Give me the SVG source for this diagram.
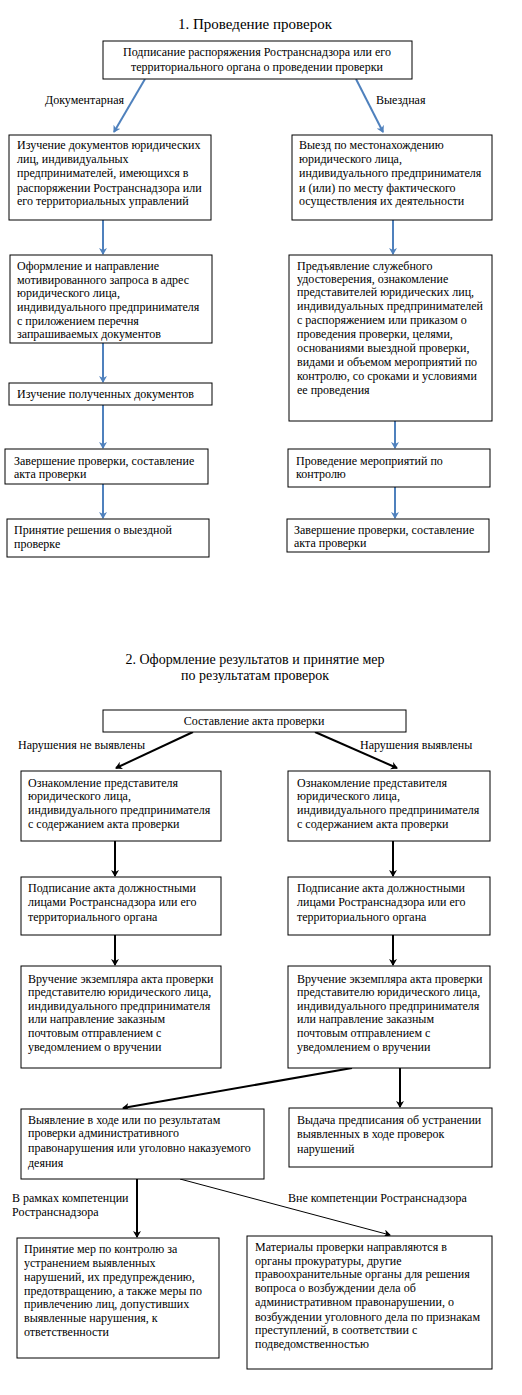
<svg xmlns="http://www.w3.org/2000/svg" width="522" height="1395" viewBox="0 0 522 1395" font-family="Liberation Serif, Times New Roman, serif">
<style>
.b{fill:#fff;stroke:#000;stroke-width:1}
text{font-family:'Liberation Serif','Times New Roman',serif;font-size:12px;fill:#000}
.t{font-size:15px}
.t2{font-size:14px}
.blue{stroke:#4F81BD;stroke-width:2;fill:none}
.blk{stroke:#000;stroke-width:2;fill:none}
.thin{stroke:#000;stroke-width:1;fill:none}
</style>
<defs>
<marker id="ab" markerWidth="8" markerHeight="8" refX="6" refY="4" orient="auto" markerUnits="userSpaceOnUse"><path d="M0,0 L7,4 L0,8 L2,4 Z" fill="#4F81BD"/></marker>
<marker id="ak" markerWidth="8" markerHeight="8" refX="6" refY="4" orient="auto" markerUnits="userSpaceOnUse"><path d="M0,0 L7,4 L0,8 L2,4 Z" fill="#000"/></marker>
</defs>
<rect width="522" height="1395" fill="#fff"/>
<text class="t" x="255" y="29" text-anchor="middle">1. Проведение проверок</text>
<text class="t2" x="255" y="664" text-anchor="middle">2. Оформление результатов и принятие мер</text>
<text class="t2" x="255" y="680" text-anchor="middle">по результатам проверок</text>

<g id="connectors">
<line class="blue" x1="145" y1="79" x2="114" y2="132" marker-end="url(#ab)"/>
<line class="blue" x1="356" y1="79" x2="383" y2="132" marker-end="url(#ab)"/>
<line class="blue" x1="103" y1="220" x2="103" y2="254" marker-end="url(#ab)"/>
<line class="blue" x1="103" y1="343" x2="103" y2="382" marker-end="url(#ab)"/>
<line class="blue" x1="103" y1="405" x2="103" y2="448" marker-end="url(#ab)"/>
<line class="blue" x1="103" y1="484" x2="103" y2="518" marker-end="url(#ab)"/>
<line class="blue" x1="393" y1="220" x2="393" y2="254" marker-end="url(#ab)"/>
<line class="blue" x1="395" y1="421" x2="395" y2="448" marker-end="url(#ab)"/>
<line class="blue" x1="395" y1="487" x2="395" y2="518" marker-end="url(#ab)"/>
<line class="blk" x1="193" y1="732" x2="116" y2="768" marker-end="url(#ak)"/>
<line class="blk" x1="315" y1="732" x2="397" y2="768" marker-end="url(#ak)"/>
<line class="blk" x1="115" y1="841" x2="115" y2="876" marker-end="url(#ak)"/>
<line class="blk" x1="115" y1="935" x2="115" y2="965" marker-end="url(#ak)"/>
<line class="blk" x1="393" y1="841" x2="393" y2="876" marker-end="url(#ak)"/>
<line class="blk" x1="393" y1="935" x2="393" y2="965" marker-end="url(#ak)"/>
<line class="blk" x1="352" y1="1068" x2="123" y2="1108" marker-end="url(#ak)"/>
<line class="blk" x1="400" y1="1068" x2="400" y2="1107" marker-end="url(#ak)"/>
<line class="blk" x1="137" y1="1179" x2="137" y2="1237" marker-end="url(#ak)"/>
<line class="thin" x1="180" y1="1179" x2="390" y2="1235" marker-end="url(#ak)"/>
<text x="45" y="104">Документарная</text>
<text x="376" y="104">Выездная</text>
<text x="18" y="749">Нарушения не выявлены</text>
<text x="360" y="749">Нарушения выявлены</text>
<text x="12" y="1202">В рамках компетенции</text>
<text x="12" y="1216">Ространснадзора</text>
<text x="288" y="1202">Вне компетенции Ространснадзора</text>
</g>

<g id="n1"><rect class="b" x="103" y="41" width="309" height="38"/>
<text x="257" y="56" text-anchor="middle">Подписание распоряжения Ространснадзора или его</text>
<text x="257" y="71" text-anchor="middle">территориального органа о проведении проверки</text></g>

<g id="n2"><rect class="b" x="9" y="135" width="202" height="85"/>
<text x="17" y="149">Изучение документов юридических</text>
<text x="17" y="163">лиц, индивидуальных</text>
<text x="17" y="177">предпринимателей, имеющихся в</text>
<text x="17" y="192">распоряжении Ространснадзора или</text>
<text x="17" y="205">его территориальных управлений</text></g>

<g id="n3"><rect class="b" x="10" y="255" width="202" height="88"/>
<text x="17" y="270">Оформление и направление</text>
<text x="17" y="284">мотивированного запроса в адрес</text>
<text x="17" y="297">юридического лица,</text>
<text x="17" y="311">индивидуального предпринимателя</text>
<text x="17" y="325">с приложением перечня</text>
<text x="17" y="338">запрашиваемых документов</text></g>

<g id="n4"><rect class="b" x="9" y="383" width="203" height="22"/>
<text x="17" y="398">Изучение полученных документов</text></g>

<g id="n5"><rect class="b" x="5" y="449" width="203" height="35"/>
<text x="14" y="465">Завершение проверки, составление</text>
<text x="14" y="478">акта проверки</text></g>

<g id="n6"><rect class="b" x="7" y="519" width="202" height="38"/>
<text x="14" y="534">Принятие решения о выездной</text>
<text x="14" y="548">проверке</text></g>

<g id="n7"><rect class="b" x="292" y="135" width="200" height="85"/>
<text x="299" y="149">Выезд по местонахождению</text>
<text x="299" y="163">юридического лица,</text>
<text x="299" y="177">индивидуального предпринимателя</text>
<text x="299" y="192">и (или) по месту фактического</text>
<text x="299" y="205">осуществления их деятельности</text></g>

<g id="n8"><rect class="b" x="289" y="255" width="203" height="166"/>
<text x="297" y="270">Предъявление служебного</text>
<text x="297" y="283">удостоверения, ознакомление</text>
<text x="297" y="296">представителей юридических лиц,</text>
<text x="297" y="310">индивидуальных предпринимателей</text>
<text x="297" y="324">с распоряжением или приказом о</text>
<text x="297" y="338">проведения проверки, целями,</text>
<text x="297" y="352">основаниями выездной проверки,</text>
<text x="297" y="366">видами и объемом мероприятий по</text>
<text x="297" y="380">контролю, со сроками и условиями</text>
<text x="297" y="394">ее проведения</text></g>

<g id="n9"><rect class="b" x="288" y="449" width="202" height="38"/>
<text x="296" y="465">Проведение мероприятий по</text>
<text x="296" y="478">контролю</text></g>

<g id="n10"><rect class="b" x="287" y="519" width="202" height="33"/>
<text x="294" y="534">Завершение проверки, составление</text>
<text x="294" y="547">акта проверки</text></g>

<g id="n11"><rect class="b" x="103" y="710" width="303" height="22"/>
<text x="254" y="725" text-anchor="middle">Составление акта проверки</text></g>

<g id="n12"><rect class="b" x="21" y="771" width="200" height="70"/>
<text x="28" y="787">Ознакомление представителя</text>
<text x="28" y="800">юридического лица,</text>
<text x="28" y="814">индивидуального предпринимателя</text>
<text x="28" y="828">с содержанием акта проверки</text></g>

<g id="n13"><rect class="b" x="21" y="877" width="200" height="58"/>
<text x="28" y="892">Подписание акта должностными</text>
<text x="28" y="906">лицами Ространснадзора или его</text>
<text x="28" y="921">территориального органа</text></g>

<g id="n14"><rect class="b" x="21" y="966" width="200" height="102"/>
<text x="28" y="983">Вручение экземпляра акта проверки</text>
<text x="28" y="996">представителю юридического лица,</text>
<text x="28" y="1010">индивидуального предпринимателя</text>
<text x="28" y="1023">или направление заказным</text>
<text x="28" y="1037">почтовым отправлением с</text>
<text x="28" y="1051">уведомлением о вручении</text></g>

<g id="n15"><rect class="b" x="288" y="771" width="202" height="70"/>
<text x="297" y="787">Ознакомление представителя</text>
<text x="297" y="800">юридического лица,</text>
<text x="297" y="814">индивидуального предпринимателя</text>
<text x="297" y="828">с содержанием акта проверки</text></g>

<g id="n16"><rect class="b" x="288" y="877" width="202" height="58"/>
<text x="297" y="892">Подписание акта должностными</text>
<text x="297" y="906">лицами Ространснадзора или его</text>
<text x="297" y="921">территориального органа</text></g>

<g id="n17"><rect class="b" x="288" y="966" width="202" height="102"/>
<text x="297" y="983">Вручение экземпляра акта проверки</text>
<text x="297" y="996">представителю юридического лица,</text>
<text x="297" y="1010">индивидуального предпринимателя</text>
<text x="297" y="1023">или направление заказным</text>
<text x="297" y="1037">почтовым отправлением с</text>
<text x="297" y="1051">уведомлением о вручении</text></g>

<g id="n18"><rect class="b" x="21" y="1109" width="243" height="70"/>
<text x="28" y="1124">Выявление в ходе или по результатам</text>
<text x="28" y="1137">проверки административного</text>
<text x="28" y="1152">правонарушения или уголовно наказуемого</text>
<text x="28" y="1167">деяния</text></g>

<g id="n19"><rect class="b" x="289" y="1108" width="203" height="59"/>
<text x="297" y="1124">Выдача предписания об устранении</text>
<text x="297" y="1138">выявленных в ходе проверок</text>
<text x="297" y="1153">нарушений</text></g>

<g id="n20"><rect class="b" x="17" y="1238" width="202" height="120"/>
<text x="24" y="1253">Принятие мер по контролю за</text>
<text x="24" y="1267">устранением выявленных</text>
<text x="24" y="1281">нарушений, их предупреждению,</text>
<text x="24" y="1295">предотвращению, а также меры по</text>
<text x="24" y="1308">привлечению лиц, допустивших</text>
<text x="24" y="1322">выявленные нарушения, к</text>
<text x="24" y="1336">ответственности</text></g>

<g id="n21"><rect class="b" x="247" y="1236" width="245" height="133"/>
<text x="255" y="1251">Материалы проверки направляются в</text>
<text x="255" y="1265">органы прокуратуры, другие</text>
<text x="255" y="1278">правоохранительные органы для решения</text>
<text x="255" y="1292">вопроса о возбуждении дела об</text>
<text x="255" y="1306">административном правонарушении, о</text>
<text x="255" y="1321">возбуждении уголовного дела по признакам</text>
<text x="255" y="1334">преступлений, в соответствии с</text>
<text x="255" y="1348">подведомственностью</text></g>
</svg>
